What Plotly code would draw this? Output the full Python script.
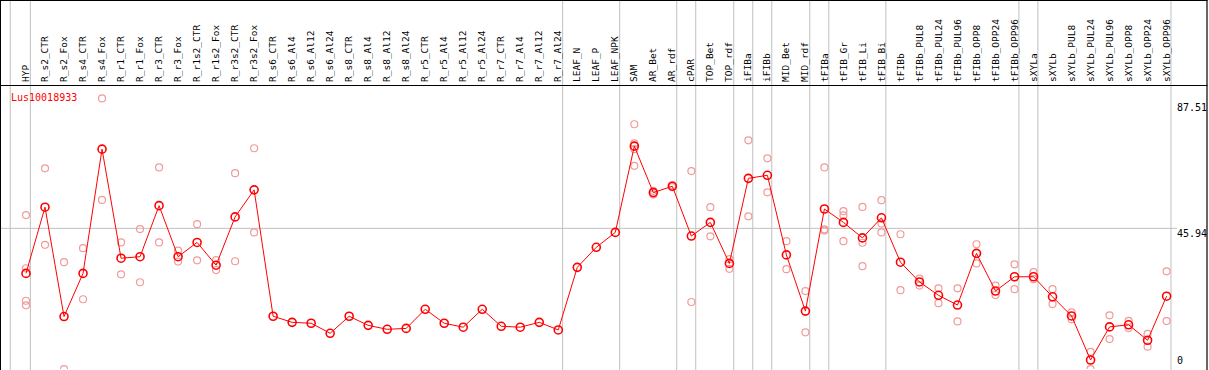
import plotly.graph_objects as go

categories = ["HYP", "R_s2_CTR", "R_s2_Fox", "R_s4_CTR", "R_s4_Fox", "R_r1_CTR", "R_r1_Fox",
              "R_r3_CTR", "R_r3_Fox", "R_r1s2_CTR", "R_r1s2_Fox", "R_r3s2_CTR", "R_r3s2_Fox",
              "R_s6_CTR", "R_s6_Al4", "R_s6_Al12", "R_s6_Al24", "R_s8_CTR", "R_s8_Al4", "R_s8_Al12",
              "R_s8_Al24", "R_r5_CTR", "R_r5_Al4", "R_r5_Al12", "R_r5_Al24", "R_r7_CTR", "R_r7_Al4",
              "R_r7_Al12", "R_r7_Al24", "LEAF_N", "LEAF_P", "LEAF_NPK", "SAM", "AR_Bet", "AR_rdf",
              "cPAR", "TOP_Bet", "TOP_rdf", "iFIBa", "iFIBb", "MID_Bet", "MID_rdf", "tFIBa",
              "tFIB_Gr", "tFIB_Li", "tFIB_Bi", "tFIBb", "tFIBb_PUL8", "tFIBb_PUL24", "tFIBb_PUL96",
              "tFIBb_OPP8", "tFIBb_OPP24", "tFIBb_OPP96", "sXYLa", "sXYLb", "sXYLb_PUL8",
              "sXYLb_PUL24", "sXYLb_PUL96", "sXYLb_OPP8", "sXYLb_OPP24", "sXYLb_OPP96"]

means = [31.1, 52.9, 16.9, 31.1, 72.0, 36.1, 36.6, 53.4, 36.6, 41.3, 33.8, 49.7, 58.6,
         17.0, 15.0, 14.7, 11.4, 17.0, 14.0, 12.7, 13.0, 19.3, 14.7, 13.4, 19.3, 13.7, 13.4,
         15.0, 12.5, 33.1, 39.7, 44.6, 73.0, 57.7, 59.8, 43.4, 47.9, 34.4, 62.4, 63.4, 37.2,
         18.7, 52.3, 47.9, 42.8, 49.4, 34.8, 28.3, 23.9, 20.7, 37.7, 25.3, 30.0, 30.0, 23.4,
         17.1, 2.6, 13.5, 14.2, 9.1, 23.6]

replicates = [
    [50.3, 32.8, 22.1, 20.6], [65.7, 40.5], [34.8, -0.4], [39.4, 22.6], [88.7, 55.3],
    [41.3, 30.8], [45.7, 28.2], [66.0, 41.3], [38.6, 35.0], [47.3, 35.4], [35.5, 32.2],
    [64.1, 35.1], [72.3, 44.6],
    [], [], [], [], [], [], [], [], [], [], [], [], [], [], [], [],
    [], [], [],
    [80.2, 73.9, 72.0, 66.5], [58.3, 57.1], [60.1, 59.5], [64.8, 21.7], [52.9, 43.3],
    [35.8, 32.6], [74.9, 49.9], [69.0, 57.8], [41.7, 32.5], [25.3, 11.7],
    [66.0, 45.6, 45.2], [51.6, 50.2, 41.7], [53.0, 41.2, 33.5], [55.2, 47.5, 44.6],
    [44.0, 25.6], [29.4, 27.1], [26.2, 21.3], [26.2, 15.3], [40.7, 34.4], [27.1, 24.0],
    [34.1, 25.9], [31.5, 29.2], [25.9, 21.0], [18.3, 16.0], [5.3, -0.4], [17.3, 9.5],
    [15.5, 13.1], [11.2, 7.0], [31.8, 15.4],
]

group_ends = [0, 28, 31, 34, 35, 37, 38, 39, 41, 42, 45, 52, 53, 60]
y_ticks = [87.51, 45.94, 0]
gene = "Lus10018933"

W, H = 1209, 370
FONT = "DejaVu Sans Mono"

rep_x, rep_y = [], []
for c, reps in zip(categories, replicates):
    for v in reps:
        rep_x.append(c)
        rep_y.append(v)

fig = go.Figure()
fig.add_trace(go.Scatter(x=rep_x, y=rep_y, mode="markers",
                         marker=dict(symbol="circle-open", size=7, color="#f29a9a",
                                     line=dict(width=1.2, color="#f29a9a")),
                         hoverinfo="skip", showlegend=False, cliponaxis=True))
fig.add_trace(go.Scatter(x=categories, y=means, mode="lines+markers",
                         line=dict(color="#ff0000", width=1),
                         marker=dict(symbol="circle-open", size=8, color="#ff0000",
                                     line=dict(width=1.6, color="#ff0000")),
                         showlegend=False, cliponaxis=True))

shapes = []
sep_positions = [-0.83] + [g + 0.23 for g in group_ends]
for s in sep_positions:
    shapes.append(dict(type="line", xref="x", yref="paper", x0=s, x1=s, y0=0, y1=1,
                       line=dict(color="#c0c0c0", width=1), layer="below"))
shapes.append(dict(type="line", xref="paper", yref="y", x0=0, x1=1177 / W,
                   y0=y_ticks[1], y1=y_ticks[1], line=dict(color="#c0c0c0", width=1),
                   layer="below"))
shapes.append(dict(type="line", xref="paper", yref="paper", x0=0, x1=1207.5 / W,
                   y0=1 - 0.5 / H, y1=1 - 0.5 / H, line=dict(color="black", width=1)))
shapes.append(dict(type="line", xref="paper", yref="paper", x0=0, x1=1207.5 / W,
                   y0=1 - 85.5 / H, y1=1 - 85.5 / H, line=dict(color="black", width=1)))
shapes.append(dict(type="line", xref="paper", yref="paper", x0=0.5 / W, x1=0.5 / W,
                   y0=0, y1=1, line=dict(color="black", width=1)))
shapes.append(dict(type="line", xref="paper", yref="paper", x0=1207 / W, x1=1207 / W,
                   y0=0, y1=1, line=dict(color="black", width=1.2)))

annotations = [dict(text=gene, xref="paper", yref="paper", x=9 / W, y=1 - 90 / H,
                    xanchor="left", yanchor="top", showarrow=False,
                    font=dict(family=FONT, size=10, color="#ff0000"))]
for t in y_ticks:
    annotations.append(dict(text="0" if t == 0 else f"{t:.2f}", xref="paper", yref="y",
                            x=1175 / W, y=t, xanchor="left",
                            yanchor="bottom" if t == 0 else "top",
                            yshift=0 if t == 0 else 2, showarrow=False,
                            font=dict(family=FONT, size=10, color="black")))

x0_idx = -26 / 19.01
x1_idx = (1207 - 26) / 19.01
fig.update_layout(
    width=W, height=H, margin=dict(l=0, r=0, t=0, b=0, autoexpand=False),
    paper_bgcolor="white", plot_bgcolor="white",
    xaxis=dict(type="category", categoryorder="array", categoryarray=categories,
               range=[x0_idx, x1_idx], domain=[0, 1207 / W], side="top",
               tickangle=-90, showgrid=False, zeroline=False, showline=False, ticks="",
               tickfont=dict(family=FONT, size=9.5, color="black"), ticklabelstandoff=2,
               automargin=False),
    yaxis=dict(range=[-0.36, 93.12], domain=[1 / H, 285 / H], showgrid=False,
               zeroline=False, showticklabels=False, ticks="", showline=False,
               automargin=False),
    shapes=shapes, annotations=annotations,
)
fig.write_html("out.html", config={"displayModeBar": False},
               post_script="document.body.style.margin='0';document.body.style.padding='0';")
